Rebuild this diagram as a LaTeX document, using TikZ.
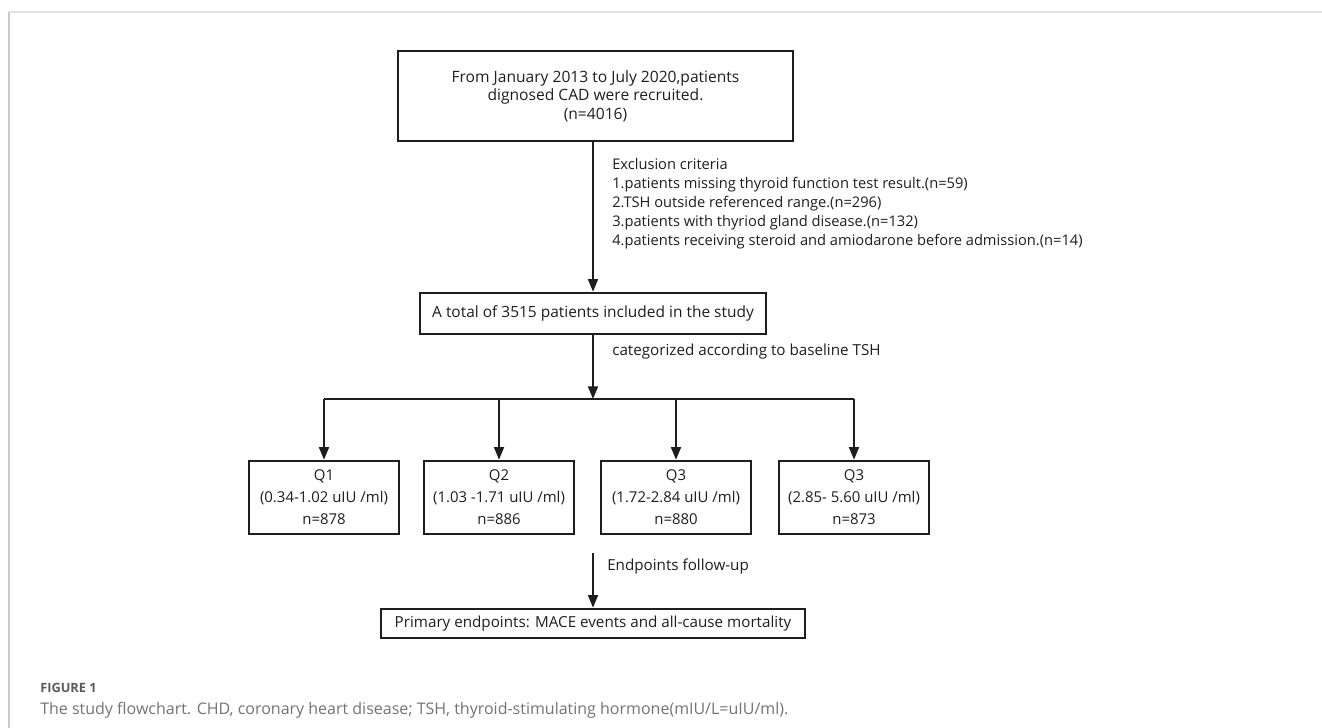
\documentclass[tikz,border=0pt]{standalone}
\usepackage{fontspec}
\setmainfont{Open Sans}
\usetikzlibrary{arrows.meta,calc}
\definecolor{ink}{HTML}{1E1E1E}
\definecolor{capgray}{HTML}{5A5A5A}
\definecolor{frametop}{HTML}{E2E2E2}
\definecolor{frameleft}{HTML}{C8C8C8}
\tikzset{
  boxnode/.style={draw=ink, line width=1.7pt, inner sep=0pt, align=center,
    text=ink, font=\fontsize{11.4}{13.9}\selectfont},
  qbox/.style={boxnode, minimum width=113pt, minimum height=55pt,
    font=\fontsize{11.2}{16.5}\selectfont},
  arr/.style={draw=ink, line width=1.4pt, -{Triangle[length=9.5pt,width=7.5pt]}},
  conn/.style={draw=ink, line width=1.4pt},
  plain/.style={inner sep=0pt, text=ink, font=\fontsize{11}{14.25}\selectfont, align=left},
}
\begin{document}
\begin{tikzpicture}[x=0.75pt,y=-0.75pt]
\useasboundingbox (0,0) rectangle (1322,728);
% frame
\draw[frametop, line width=1.5pt] (9,12) -- (1322,12);
\draw[frameleft, line width=1.1pt] (9,12) -- (9,728);
% boxes
\node[boxnode, minimum width=296pt, minimum height=68pt, font=\fontsize{11.7}{13.9}\selectfont] (top) at (595.5,96)
  {From January 2013 to July 2020,patients\\dignosed CAD were recruited.\\(n=4016)};
\node[boxnode, minimum width=259.5pt, minimum height=31pt, font=\fontsize{11.6}{13.9}\selectfont] (total) at (593,313.5)
  {A total of 3515 patients included in the study};
\node[qbox] (q1) at (324,497.5) {Q1\\(0.34-1.02 uIU /ml)\\n=878};
\node[qbox] (q2) at (499,497.5) {Q2\\(1.03 -1.71 uIU /ml)\\n=886};
\node[qbox] (q3) at (676,497.5) {Q3\\(1.72-2.84 uIU /ml)\\n=880};
\node[qbox] (q4) at (854,497.5) {Q3\\(2.85- 5.60 uIU /ml)\\n=873};
\node[boxnode, minimum width=318pt, minimum height=22pt] (prim) at (593,623.5)
  {Primary endpoints: MACE events and all-cause mortality};
% labels
\node[plain, anchor=north west] (excl) at (612,158)
  {Exclusion criteria\\
   1.patients missing thyroid function test result.(n=59)\\
   2.TSH outside referenced range.(n=296)\\
   3.patients with thyriod gland disease.(n=132)\\
   4.patients receiving steroid and amiodarone before admission.(n=14)};
\node[plain, anchor=west, font=\fontsize{11.4}{14}\selectfont] (cat) at (612,352) {categorized according to baseline TSH};
\node[plain, anchor=west, font=\fontsize{11.4}{14}\selectfont] (fu) at (607,567) {Endpoints follow-up};
% coordinates
\coordinate (bar) at (593,399);
\coordinate (fustart) at (593,553);
% connectors
\draw[arr] (top.south -| total.north) -- (total.north);
\draw[arr] (total.south) -- (bar);
\draw[conn] (q1.north |- bar) -- (q4.north |- bar);
\foreach \q in {q1,q2,q3,q4} \draw[arr] (\q.north |- bar) -- (\q.north);
\draw[arr] (fustart) -- (prim.north);
% caption
\node[anchor=west, inner sep=0pt, text=capgray, font=\fontsize{9.6}{12}\bfseries] (figlabel) at (40,688) {FIGURE 1};
\node[anchor=west, inner sep=0pt, text=capgray!85, font=\fontsize{12}{15}\selectfont] (caption) at (40,710)
  {The study flowchart. CHD, coronary heart disease; TSH, thyroid-stimulating hormone(mIU/L=uIU/ml).};
\end{tikzpicture}
\end{document}
